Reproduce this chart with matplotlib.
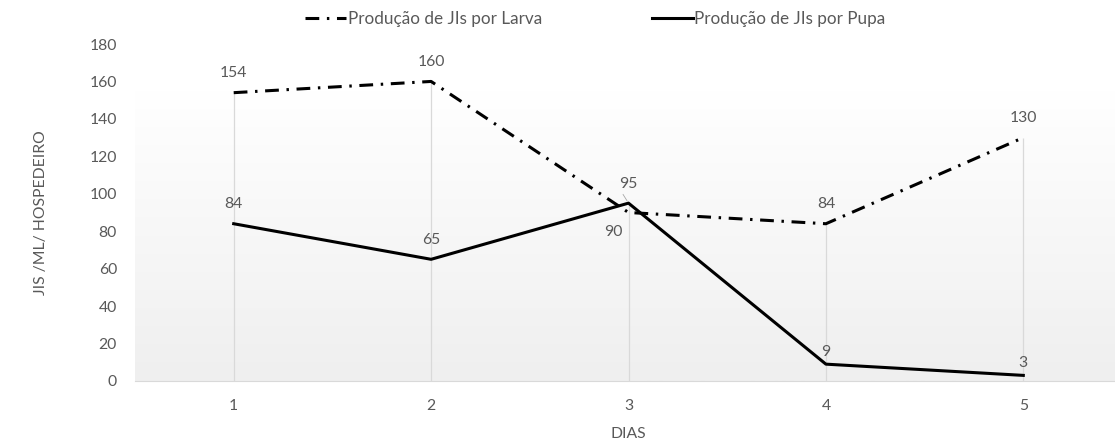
import numpy as np
import matplotlib
matplotlib.use('Agg')
import matplotlib.pyplot as plt

# ── Data ───────────────────────────────────────────────────────
dias = [1, 2, 3, 4, 5]
larva = [154, 160, 90, 84, 130]
pupa = [84, 65, 95, 9, 3]
yticks = [0, 20, 40, 60, 80, 100, 120, 140, 160, 180]

plt.rcParams['font.family'] = ['Lato', 'DejaVu Sans']
TXT = '#595959'
FS = 11.3

fig = plt.figure(figsize=(11.15, 4.41), dpi=100)
ax = fig.add_axes([135 / 1115, 1 - 381 / 441, 987 / 1115, 337 / 441])
ax.set_xlim(0.5, 5.5)
ax.set_ylim(0, 180)

# gradient plot-area fill (white at top -> light gray at bottom)
grad = np.linspace(0, 1, 256).reshape(-1, 1)
cmap = matplotlib.colors.LinearSegmentedColormap.from_list('g', ['#efefef', '#ffffff'])
ax.imshow(grad, cmap=cmap, origin='lower', aspect='auto',
          extent=[0.5, 5.5, 0, 155], zorder=0)

# drop lines
tops = [max(a, b) for a, b in zip(larva, pupa)]
ax.vlines(dias, 0, tops, color='#d9d9d9', linewidth=0.9, zorder=1)

ln_larva, = ax.plot(dias, larva, color='black', linewidth=2.2,
                    dashes=(4.5, 2.5, 0.8, 2.5), label='Produção de JIs por Larva', zorder=3)
ln_pupa, = ax.plot(dias, pupa, color='black', linewidth=2.2,
                   label='Produção de JIs por Pupa', zorder=3)

# data labels
for x, v in zip(dias, larva):
    if x == 3:
        ax.annotate(str(v), (x, v), xytext=(-11, -14), textcoords='offset points',
                    ha='center', va='center', fontsize=FS, color=TXT)
    else:
        ax.annotate(str(v), (x, v), xytext=(0, 14), textcoords='offset points',
                    ha='center', va='center', fontsize=FS, color=TXT)
for x, v in zip(dias, pupa):
    off = 14 if v > 20 else 9
    ax.annotate(str(v), (x, v), xytext=(0, off), textcoords='offset points',
                ha='center', va='center', fontsize=FS, color=TXT)
ax.annotate('', (3, 95), xytext=(-5, 8), textcoords='offset points',
            arrowprops=dict(arrowstyle='-', color='#a6a6a6', lw=0.6))

ax.set_xticks(dias)
ax.set_yticks(yticks)
ax.tick_params(axis='both', length=0, labelsize=FS, colors=TXT)
ax.tick_params(axis='x', pad=13)
ax.tick_params(axis='y', pad=13)
for s in ['top', 'right', 'left']:
    ax.spines[s].set_visible(False)
ax.spines['bottom'].set_color('#d9d9d9')
ax.set_xlabel('DIAS', fontsize=FS, color=TXT, labelpad=10)
ax.set_ylabel('JIS /ML/ HOSPEDEIRO', fontsize=FS, color=TXT, labelpad=30)

fig.legend(handles=[ln_larva, ln_pupa], loc='upper center', bbox_to_anchor=(0.534, 1.01),
           ncol=2, frameon=False, fontsize=12.3, labelcolor=TXT, handlelength=2.4,
           handletextpad=0.1, columnspacing=6.4)

fig.savefig('out.png', dpi=100)
